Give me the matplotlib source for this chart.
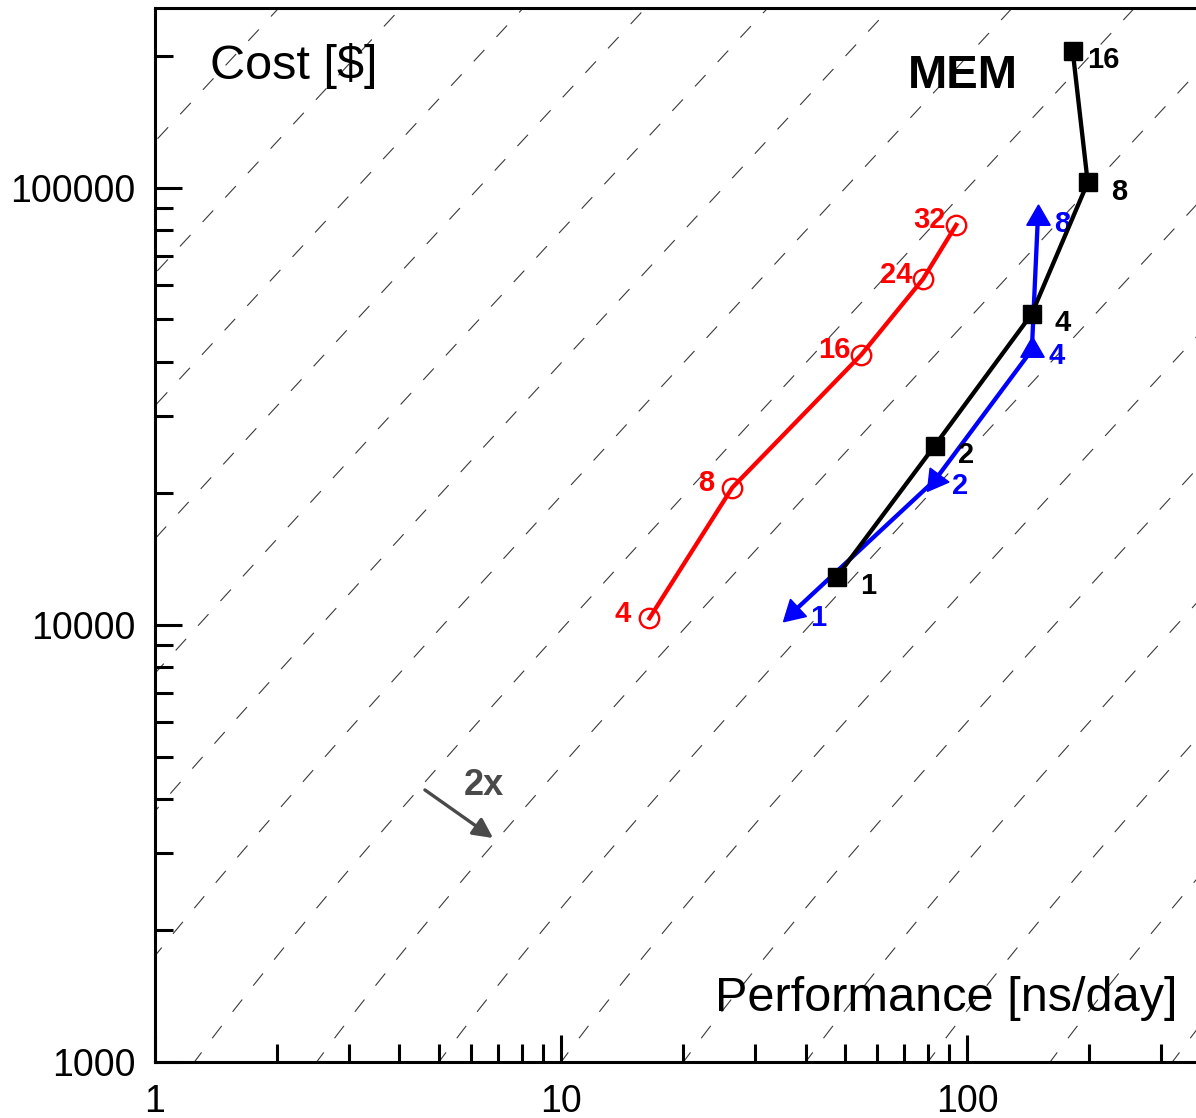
import numpy as np
import matplotlib.pyplot as plt
from matplotlib.ticker import FixedLocator, LogLocator, NullFormatter, FuncFormatter

plt.rcParams['font.family'] = ['Liberation Sans', 'DejaVu Sans']

# nodes, performance [ns/day] and cost [$] of each series
red_nodes = [4, 8, 16, 24, 32]
red_perf = [16.5, 26.4, 54.8, 77.8, 94.0]
red_cost = [10360, 20620, 41480, 61820, 82300]

black_nodes = [1, 2, 4, 8, 16]
black_perf = [47.8, 83.2, 144.1, 198.1, 181.9]
black_cost = [12900, 25720, 51420, 102900, 205700]

blue_nodes = [1, 2, 4, 8]
blue_perf = [37.3, 83.4, 144.3, 149.3]
blue_cost = [10710, 21470, 42590, 85380]
# arrowheads: index of the point each head comes from (None = pointing up)
blue_from = [1, 2, None, None]

# iso cost-efficiency guides: cost = ratio * perf - offset, spaced by 2x
guide_ratios = [1000 * 2.0 ** n for n in range(-10, 10)]
guide_offset = 250

x_ticks = [1, 10, 100]
y_ticks = [1000, 10000, 100000]

fig = plt.figure(figsize=(11.96, 11.18), dpi=100)
ax = fig.add_axes([155 / 1196, 56 / 1118, 1041 / 1196, 1054 / 1118])
ax.set_xscale('log')
ax.set_yscale('log')
ax.set_xlim(1, 366)
ax.set_ylim(1000, 2.58e5)

# dashed guides
xs = np.logspace(-0.5, 3, 600)
for r in guide_ratios:
    ys = r * xs - guide_offset
    ok = ys > 0
    ax.plot(xs[ok], ys[ok], color='#3a3a3a', lw=0.8, dashes=(14, 16), zorder=1)

ax.plot(red_perf, red_cost, color='red', lw=3.1, marker='o', ms=14,
        mfc='none', mec='red', mew=1.7, zorder=3)
ax.plot(black_perf, black_cost, color='black', lw=3.1, marker='s', ms=13,
        zorder=4)
ax.plot(blue_perf, blue_cost, color='blue', lw=3.1, zorder=3)

# blue arrowheads, turned along the line in screen space
pts = ax.transData.transform(np.column_stack([blue_perf, blue_cost]))
for i, src in enumerate(blue_from):
    if src is None:
        ang = 90.0
    else:
        d = pts[i] - pts[src]
        ang = np.degrees(np.arctan2(d[1], d[0]))
    ax.plot(blue_perf[i], blue_cost[i], marker=(3, 0, ang - 90), ms=19.5,
            color='blue', mec='blue', lw=0, zorder=5)

lab_kw = dict(textcoords='offset points', ha='center', va='baseline',
              fontsize=21, fontweight='bold')
for n, x, y in zip(red_nodes, red_perf, red_cost):
    ax.annotate(str(n), (x, y), xytext=(-19, -2.5), color='red', **lab_kw)
for n, x, y in zip(black_nodes, black_perf, black_cost):
    ax.annotate(str(n), (x, y), xytext=(22.3, -12.3), color='black', **lab_kw)
for n, x, y in zip(blue_nodes, blue_perf, blue_cost):
    ax.annotate(str(n), (x, y), xytext=(17.6, -10.1), color='blue', **lab_kw)

ax.text(0.0528, 0.9326, 'Cost [$]', transform=ax.transAxes, fontsize=35,
        ha='left', va='baseline')
ax.text(0.9827, 0.048, 'Performance [ns/day]', transform=ax.transAxes,
        fontsize=35, ha='right', va='baseline')
ax.text(0.776, 0.9241, 'MEM', transform=ax.transAxes, fontsize=34,
        fontweight='bold', ha='center', va='baseline')

ax.annotate('', xy=(6.80, 3254), xytext=(4.62, 4193),
            arrowprops=dict(arrowstyle='-|>', color='#4a4a4a', lw=2.4,
                            mutation_scale=30, shrinkA=0, shrinkB=0))
ax.text(6.46, 4080, '2x', fontsize=26, fontweight='bold', color='#4a4a4a',
        ha='center', va='baseline')

for side in ['left', 'bottom', 'top']:
    ax.spines[side].set_linewidth(2.2)
ax.spines['right'].set_visible(False)

ax.xaxis.set_major_locator(FixedLocator(x_ticks))
ax.yaxis.set_major_locator(FixedLocator(y_ticks))
ax.xaxis.set_minor_locator(LogLocator(base=10, subs=np.arange(2, 10)))
ax.yaxis.set_minor_locator(LogLocator(base=10, subs=np.arange(2, 10)))
ax.xaxis.set_minor_formatter(NullFormatter())
ax.yaxis.set_minor_formatter(NullFormatter())
fmt = FuncFormatter(lambda v, p: '%d' % v)
ax.xaxis.set_major_formatter(fmt)
ax.yaxis.set_major_formatter(fmt)
ax.tick_params(which='both', direction='in', top=False, right=False, width=2.2)
ax.tick_params(which='major', length=19.5, labelsize=27)
ax.tick_params(which='minor', length=13.3)
ax.tick_params(axis='x', which='major', pad=16)
ax.tick_params(axis='y', which='major', pad=14)

fig.savefig('out.png', dpi=100)
